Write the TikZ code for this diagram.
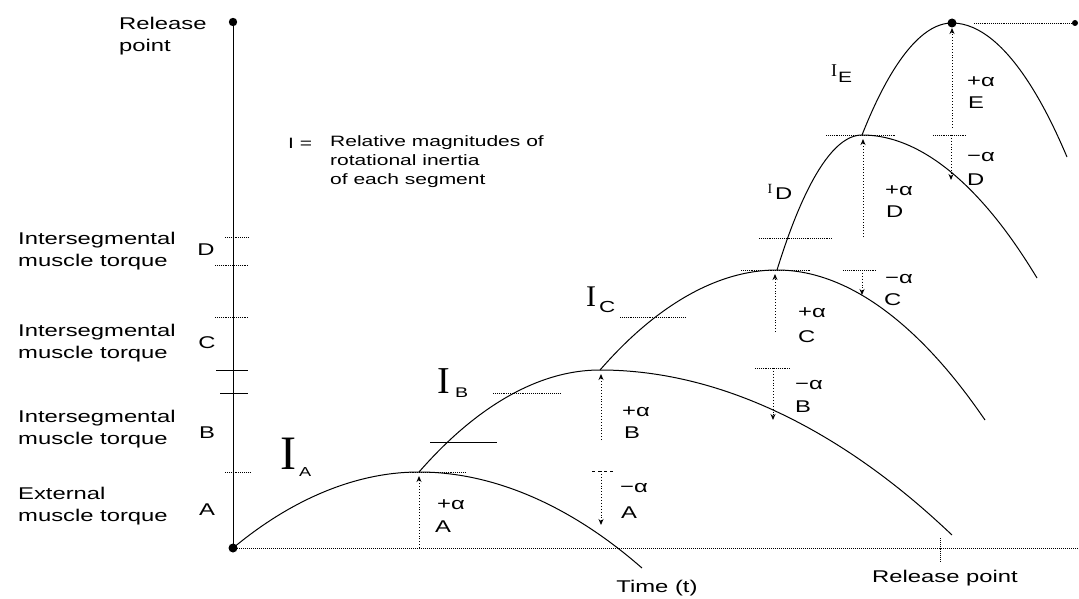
\documentclass[tikz,border=0pt]{standalone}
\usepackage{fontspec}
\setmainfont{Liberation Sans}[FakeStretch=1.4]
\newfontfamily\ifont{Liberation Serif}
\usetikzlibrary{arrows.meta}
\begin{document}
\begin{tikzpicture}[x=1pt,y=-1pt,
  txt/.style={font=\fontsize{17}{22}\selectfont, inner sep=0pt, align=left},
  lbl/.style={font=\fontsize{17}{22}\selectfont, inner sep=0pt, anchor=west},
  legend/.style={font=\fontsize{15}{19}\selectfont, inner sep=0pt, align=left},
  bigI/.style={inner sep=0pt, anchor=center},
  sub/.style={inner sep=0pt, anchor=west},
  curve/.style={line width=1pt},
  axisline/.style={line width=1pt},
  tickdot/.style={line width=0.9pt, densely dotted},
  ticksolid/.style={line width=0.8pt},
  uparrow/.style={line width=0.9pt, dotted, -{Stealth[length=6pt,width=5pt]}},
  downarrow/.style={line width=0.9pt, dotted, -{Stealth[length=6pt,width=5pt]}}
]
\fill[white] (0,0) rectangle (1079,599);
\useasboundingbox (0,0) rectangle (1079,599);

% key points
\coordinate (O) at (233,548);
\coordinate (RP) at (233,22);
\coordinate (XE) at (1079,548);
\coordinate (PA) at (419,472);
\coordinate (EA) at (642,568);
\coordinate (PB) at (600,370);
\coordinate (EB) at (952,535);
\coordinate (PC) at (777,270);
\coordinate (EC) at (985,420);
\coordinate (PD) at (862,135);
\coordinate (ED) at (1037,278);
\coordinate (PE) at (952,23);
\coordinate (EE) at (1067,157);
\coordinate (RE) at (1075,23);

% axes
\draw[axisline] (O) -- (RP);
\draw[line width=1pt, densely dotted] (O) -- (XE);
\fill (O) circle (4.5pt);
\fill (RP) circle (4.2pt);
\draw[line width=0.9pt, densely dotted] (940,538) -- (940,562);

% ticks on vertical axis
\draw[tickdot] (225,472) -- (250,472);
\draw[ticksolid] (220,393) -- (248,393);
\draw[ticksolid] (216,370) -- (248,370);
\draw[tickdot] (215,317) -- (248,317);
\draw[tickdot] (215,265) -- (248,265);
\draw[tickdot] (225,237) -- (248,237);

% curves
\draw[curve] (O) parabola bend (PA) (EA);
\draw[curve] (PA) parabola bend (PB) (EB);
\draw[curve] (PB) parabola bend (PC) (EC);
\draw[curve] (PC) parabola bend (PD) (ED);
\draw[curve] (PD) parabola bend (PE) (EE);
\fill (PE) circle (4.5pt);
\draw[line width=0.9pt, densely dotted] (PE) ++(22,0) -- (RE);
\fill (RE) circle (3pt);

% ticks along curves
\draw[tickdot] (402,472) -- (465,472);
\draw[ticksolid] (430,442) -- (497,442);
\draw[tickdot] (493,393) -- (560,393);
\draw[tickdot] (620,317) -- (685,317);
\draw[tickdot] (741,270) -- (810,270);
\draw[tickdot] (759,238) -- (832,238);
\draw[tickdot] (826,135) -- (896,135);

% alpha arrows
\coordinate (a1b) at (419,548); \coordinate (a1t) at (419,476);
\draw[uparrow] (a1b) -- (a1t);
\coordinate (a2b) at (601,440); \coordinate (a2t) at (601,374);
\draw[uparrow] (a2b) -- (a2t);
\coordinate (a3t) at (601,471); \coordinate (a3b) at (601,525);
\draw[ticksolid, dashed] (592,471) -- (615,471);
\draw[downarrow] (a3t) -- (a3b);
\coordinate (a4b) at (775,332); \coordinate (a4t) at (775,274);
\draw[uparrow] (a4b) -- (a4t);
\coordinate (a5t) at (773,368); \coordinate (a5b) at (773,420);
\draw[tickdot] (755,368) -- (790,368);
\draw[downarrow] (a5t) -- (a5b);
\coordinate (a6t) at (862,270); \coordinate (a6b) at (862,295);
\draw[tickdot] (843,270) -- (877,270);
\draw[downarrow] (a6t) -- (a6b);
\coordinate (a7b) at (863,237); \coordinate (a7t) at (863,139);
\draw[uparrow] (a7b) -- (a7t);
\coordinate (a8b) at (952,128); \coordinate (a8t) at (952,28);
\draw[uparrow] (a8b) -- (a8t);
\coordinate (a9t) at (951,135); \coordinate (a9b) at (951,180);
\draw[tickdot] (933,135) -- (967,135);
\draw[downarrow] (a9t) -- (a9b);

% alpha labels
\node[lbl] (l1a) at (437,505) {+α};
\node[lbl] (l1b) at (435,527) {A};
\node[lbl] (l2a) at (622,412) {+α};
\node[lbl] (l2b) at (624,433) {B};
\node[lbl] (l3a) at (620,488) {−α};
\node[lbl] (l3b) at (621,513) {A};
\node[lbl] (l4a) at (798,313) {+α};
\node[lbl] (l4b) at (798,337) {C};
\node[lbl] (l5a) at (795,385) {−α};
\node[lbl] (l5b) at (795,407) {B};
\node[lbl] (l6a) at (885,279) {−α};
\node[lbl] (l6b) at (884,300) {C};
\node[lbl] (l7a) at (885,191) {+α};
\node[lbl] (l7b) at (886,212) {D};
\node[lbl] (l8a) at (967,82) {+α};
\node[lbl] (l8b) at (968,103) {E};
\node[lbl] (l9a) at (967,157) {−α};
\node[lbl] (l9b) at (967,180) {D};

% inertia labels
\node[bigI, font=\ifont\fontsize{48}{48}\selectfont] (IA) at (288,454) {I};
\node[sub, font=\fontsize{13}{13}\selectfont] (IAs) at (299,472) {A};
\node[bigI, font=\ifont\fontsize{38}{38}\selectfont] (IB) at (444,381) {I};
\node[sub, font=\fontsize{14}{14}\selectfont] (IBs) at (455,393) {B};
\node[bigI, font=\ifont\fontsize{30}{30}\selectfont] (IC) at (591,297) {I};
\node[sub, font=\fontsize{16}{16}\selectfont] (ICs) at (599,307) {C};
\node[bigI, font=\ifont\fontsize{14}{14}\selectfont] (ID) at (770,189) {I};
\node[sub, font=\fontsize{17}{17}\selectfont] (IDs) at (775,194) {D};
\node[bigI, font=\ifont\fontsize{18}{18}\selectfont] (IE) at (834,71) {I};
\node[sub, font=\fontsize{15}{15}\selectfont] (IEs) at (838,77) {E};

% axis letters
\node[txt] (axA) at (207,510) {A};
\node[txt] (axB) at (207,433) {B};
\node[txt] (axC) at (207,343) {C};
\node[txt] (axD) at (206,250) {D};

% left labels
\node[txt, anchor=west] (rel) at (119,36) {Release\\point};
\node[txt, anchor=west] (segD) at (18,251) {Intersegmental\\muscle torque};
\node[txt, anchor=west] (segC) at (18,343) {Intersegmental\\muscle torque};
\node[txt, anchor=west] (segB) at (18,429) {Intersegmental\\muscle torque};
\node[txt, anchor=west] (ext) at (18,506) {External\\muscle torque};

% legend
\node[legend, anchor=west] (leq) at (288,143) {I =};
\node[legend, anchor=north west] (ltxt) at (330,135) {Relative magnitudes of\\rotational inertia\\of each segment};

% bottom labels
\node[txt] (time) at (657,588) {Time (t)};
\node[txt] (relb) at (945,578) {Release point};
\end{tikzpicture}
\end{document}
